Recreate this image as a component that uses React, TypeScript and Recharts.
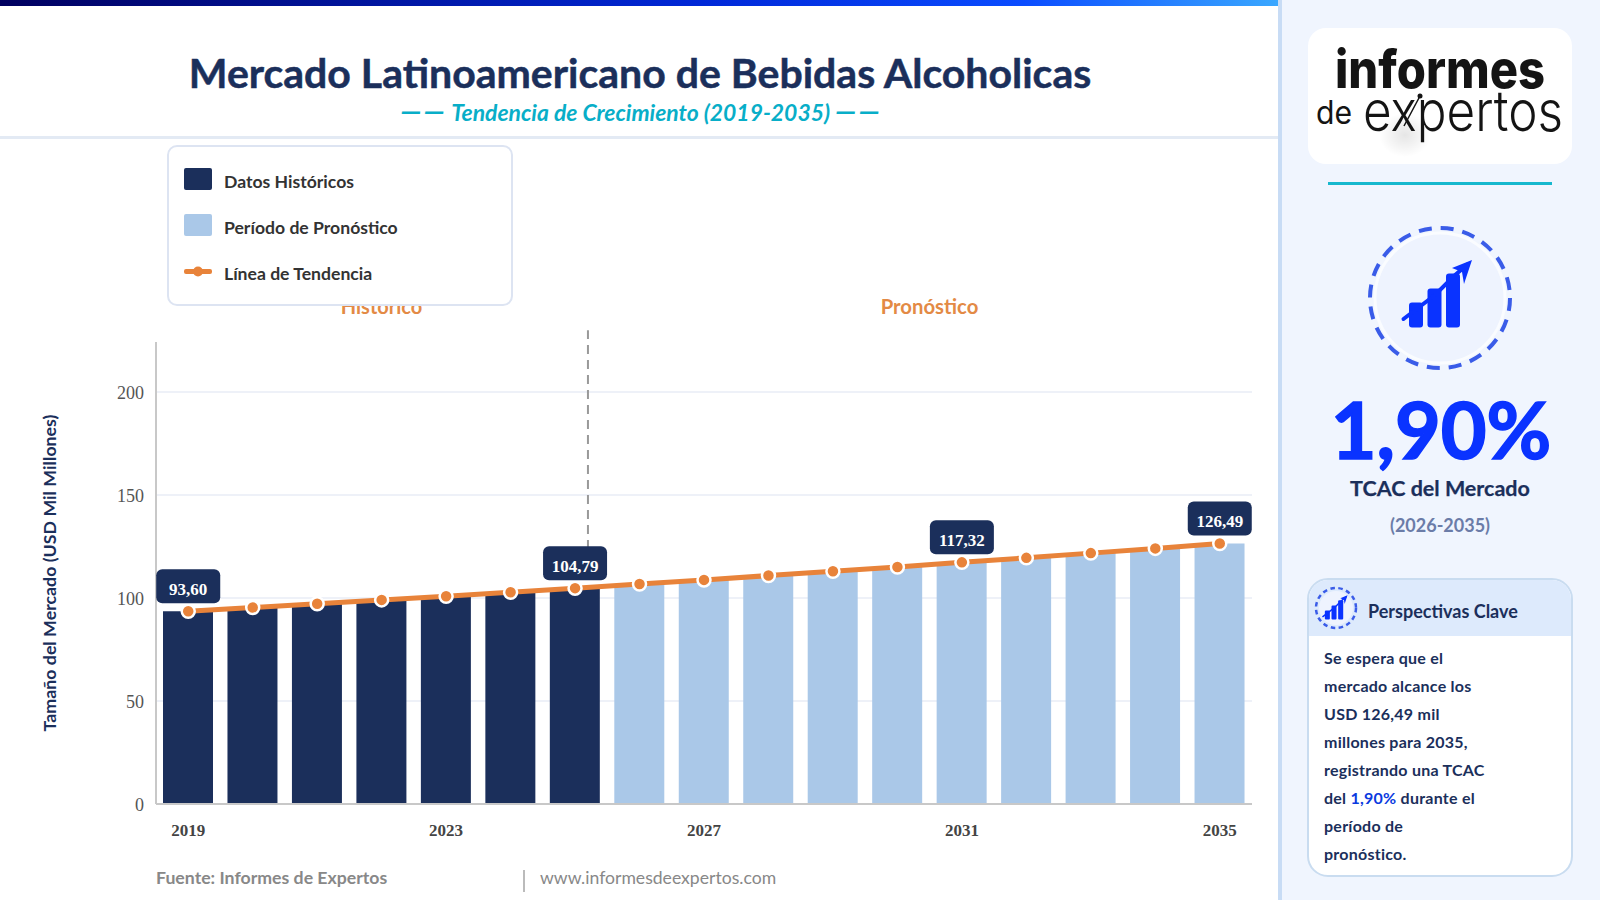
import React from 'react';
import {
  ComposedChart, Bar, Line, XAxis, YAxis, CartesianGrid, Legend, LabelList, ReferenceLine, Label,
} from 'recharts';

const years = ['2019','2020','2021','2022','2023','2024','2025','2026','2027','2028','2029','2030','2031','2032','2033','2034','2035'];
const historicValues = [93.6, 95.4, 97.2, 99.1, 100.9, 102.8, 104.79];
const forecastValues = [106.8, 108.8, 110.9, 113.0, 115.1, 117.32, 119.5, 121.8, 124.1, 126.49];
const trendValues = [...historicValues, ...forecastValues];
const labelledYears = ['2019', '2025', '2031', '2035'];
const yTicks = [0, 50, 100, 150, 200];
const insightLines = ['Se espera que el', 'mercado alcance los', 'USD 126,49 mil', 'millones para 2035,', 'registrando una TCAC'];
const insightTail = ['período de', 'pronóstico.'];

const rows = years.map((year, i) => ({
  year,
  index: i,
  historic: i < historicValues.length ? historicValues[i] : null,
  forecast: i >= historicValues.length ? forecastValues[i - historicValues.length] : null,
  trend: trendValues[i],
}));

const NAVY = '#1b2f5b';
const LIGHT = '#aac8e8';
const ORANGE = '#e8833a';
const BLUE = '#0a33ff';
const SANS = 'Lato, sans-serif';
const SERIF = '"Liberation Serif", serif';

const Chip = (props: any) => {
  const { x, y, value, index } = props;
  if (!labelledYears.includes(years[index])) return null;
  return (
    <g>
      <rect x={x - 32} y={y - 42} width={64} height={34} rx={6} fill={NAVY} />
      <text x={x} y={y - 16} textAnchor="middle" fontFamily={SERIF} fontWeight={700} fontSize={17} fill="#fff">
        {Number(value).toFixed(2).replace('.', ',')}
      </text>
    </g>
  );
};

const LegendBox = ({ payload }: any) => (
  <div style={{ width: 346, height: 161, boxSizing: 'border-box', background: '#fff', border: '2px solid #dde4f2', borderRadius: 10, padding: '21px 0 0 15px' }}>
    {(payload || []).map((entry: any) => (
      <div key={entry.value} style={{ display: 'flex', alignItems: 'center', height: 22, marginBottom: 24 }}>
        {entry.type === 'line' ? (
          <svg width={28} height={22} style={{ display: 'block' }}>
            <rect x={0} y={9} width={28} height={5} rx={2} fill={entry.color} />
            <circle cx={14} cy={11.5} r={5} fill={entry.color} />
          </svg>
        ) : (
          <div style={{ width: 28, height: 22, borderRadius: 2, background: entry.color }} />
        )}
        <span style={{ marginLeft: 12, fontFamily: SANS, fontWeight: 700, fontSize: 17.6, color: '#333', position: 'relative', top: 2 }}>{entry.value}</span>
      </div>
    ))}
  </div>
);

const TrendIcon = () => (
  <g fill={BLUE}>
    <rect x={-31} y={4.5} width={14} height={25} rx={3} />
    <rect x={-12.5} y={-9.5} width={14} height={39} rx={3} />
    <rect x={6} y={-24.5} width={14} height={54} rx={3} />
    <path d="M-36.5 21 L-5 -3 L 14 -22 L 28 -34" stroke={BLUE} strokeWidth={4} strokeLinecap="round" fill="none" />
    <path d="M32 -38 L12 -30 L 22 -26 L 24 -14 Z" />
  </g>
);

const Backdrop = () => (
  <svg width={1600} height={900} style={{ position: 'absolute', left: 0, top: 0 }}>
    <defs>
      <linearGradient id="topbar" x1="0" x2="1" y1="0" y2="0">
        <stop offset="0" stopColor="#00005f" />
        <stop offset="0.55" stopColor="#0028d8" />
        <stop offset="0.8" stopColor="#0a4cff" />
        <stop offset="1" stopColor="#3aa8ff" />
      </linearGradient>
      <radialGradient id="smudge">
        <stop offset="0" stopColor="#000" stopOpacity="0.1" />
        <stop offset="1" stopColor="#000" stopOpacity="0" />
      </radialGradient>
    </defs>
    <rect width={1600} height={900} fill="#fff" />
    <rect x={0} y={0} width={1279} height={6} fill="url(#topbar)" />
    <rect x={0} y={136} width={1278} height={3} fill="#e3eaf4" />
    <text x={640} y={88} textAnchor="middle" fontFamily={SANS} fontWeight={700} fontSize={41} stroke={NAVY} strokeWidth={0.5} fill={NAVY}>Mercado Latinoamericano de Bebidas Alcoholicas</text>
    <text x={641} y={121} textAnchor="middle" fontFamily={SANS} fontStyle="italic" fontWeight={700} fontSize={22.9} fill="#08aec8">
      <tspan fontSize={29} letterSpacing={2}>——</tspan> Tendencia de Crecimiento (2019-2035) <tspan fontSize={29} letterSpacing={2}>——</tspan>
    </text>
    <text x={381.5} y={314} textAnchor="middle" fontFamily={SANS} fontWeight={700} fontSize={20} fill="#e38a45">Histórico</text>
    <text x={929.5} y={314} textAnchor="middle" fontFamily={SANS} fontWeight={700} fontSize={20.3} fill="#e38a45">Pronóstico</text>
    <text x={156} y={884} fontFamily={SANS} fontWeight={700} fontSize={17.7} fill="#888">Fuente: Informes de Expertos</text>
    <rect x={523} y={870} width={2} height={22} fill="#bbb" />
    <text x={540} y={884} fontFamily={SANS} fontSize={17.6} fill="#888">www.informesdeexpertos.com</text>

    <rect x={1278} y={0} width={322} height={900} fill="#f0f5fe" />
    <rect x={1278} y={0} width={4} height={900} fill="#c8dcf5" />
    <rect x={1308} y={28} width={264} height={136} rx={18} fill="#fff" />
    <ellipse cx={1405} cy={135} rx={26} ry={22} fill="url(#smudge)" />
    <text x={1335} y={88} fontFamily="Inter, sans-serif" fontWeight={800} fontSize={53} textLength={210} lengthAdjust="spacingAndGlyphs" fill="#141414">informes</text>
    <text x={1316} y={124} fontFamily="Inter, sans-serif" fontWeight={400} fontSize={32} textLength={36} lengthAdjust="spacingAndGlyphs" fill="#141414">de</text>
    <text x={1363} y={131} fontFamily="Inter, sans-serif" fontWeight={300} fontSize={56} textLength={200} lengthAdjust="spacingAndGlyphs" fill="#141414">expertos</text>
    <path d="M1404 126 L1420 96" stroke="#141414" strokeWidth={1.5} fill="none" />
    <circle cx={1420} cy={96} r={2.5} fill="#141414" />
    <rect x={1328} y={182} width={224} height={3} fill="#17b8ce" />

    <circle cx={1440} cy={298} r={65} fill="#eef3fe" stroke="#fafcff" strokeWidth={3} />
    <circle cx={1440} cy={298} r={70} fill="none" stroke="#3a5ce8" strokeWidth={4} strokeDasharray="13 9" />
    <g transform="translate(1440 298)"><TrendIcon /></g>

    <text x={1441} y={459} textAnchor="middle" fontFamily={SANS} fontWeight={700} fontSize={79} stroke={BLUE} strokeWidth={1.6} fill={BLUE}>1,90%</text>
    <text x={1440} y={496} textAnchor="middle" fontFamily={SANS} fontWeight={700} fontSize={21.5} stroke={NAVY} strokeWidth={0.25} fill={NAVY}>TCAC del Mercado</text>
    <text x={1440} y={532} textAnchor="middle" fontFamily={SANS} fontWeight={700} fontSize={18} fill="#6b7ca8">(2026-2035)</text>

    <rect x={1308} y={579} width={264} height={297} rx={20} fill="#fff" stroke="#c9dcf0" strokeWidth={2} />
    <path d="M1309 636 V599 a19 19 0 0 1 19 -19 H1552 a19 19 0 0 1 19 19 V636 Z" fill="#ddeafc" />
    <circle cx={1336} cy={608} r={17} fill="#eef3fe" />
    <circle cx={1336} cy={608} r={20} fill="none" stroke="#3a5ce8" strokeWidth={2.5} strokeDasharray="4.5 3.5" />
    <g transform="translate(1336 609) scale(0.36)"><TrendIcon /></g>
    <text x={1368} y={618} fontFamily={SANS} fontWeight={700} fontSize={18} fill={NAVY}>Perspectivas Clave</text>
    <g fontFamily={SANS} fontWeight={700} fontSize={16} letterSpacing={0.25} fill={NAVY}>
      {insightLines.map((line, i) => <text key={line} x={1324} y={664 + i * 28}>{line}</text>)}
      <text x={1324} y={804}>del <tspan fill="#0a3ae0">1,90%</tspan> durante el</text>
      {insightTail.map((line, i) => <text key={line} x={1324} y={832 + i * 28}>{line}</text>)}
    </g>
  </svg>
);

export default function App() {
  return (
    <div style={{ position: 'absolute', left: 0, top: 0, width: 1600, height: 900, overflow: 'hidden' }}>
      <Backdrop />
      <div style={{ position: 'absolute', left: 0, top: 0 }}>
        <ComposedChart width={1278} height={900} data={rows} margin={{ top: 342, right: 26, bottom: 46, left: 0 }} barCategoryGap={0}>
          <CartesianGrid horizontal vertical={false} stroke="#eef1f8" strokeWidth={2} syncWithTicks />
          <XAxis dataKey="year" height={50} interval={3} tickLine={false} axisLine={{ stroke: '#c8c8c8', strokeWidth: 2 }}
            tick={{ fontFamily: SERIF, fontWeight: 700, fontSize: 17, fill: '#444' }} tickMargin={14} />
          <XAxis xAxisId="pos" type="number" dataKey="index" domain={[-0.5, 16.5]} hide />
          <YAxis width={156} domain={[0, 224.3]} ticks={yTicks} tickLine={false} axisLine={{ stroke: '#c8c8c8', strokeWidth: 2 }}
            tick={{ fontFamily: SERIF, fontSize: 18, fill: '#555', dy: 1 }} tickMargin={6}>
            <Label value="Tamaño del Mercado (USD Mil Millones)" angle={-90} position="insideLeft" offset={50}
              style={{ fontFamily: SANS, fontWeight: 700, fontSize: 17.8, fill: NAVY, textAnchor: 'middle' }} />
          </YAxis>
          <ReferenceLine xAxisId="pos" ifOverflow="visible" stroke="#999" strokeWidth={2} strokeDasharray="9 6" zIndex={100}
            segment={[{ x: 6.2, y: 0 }, { x: 6.2, y: 230 }]} />
          <Bar dataKey="historic" name="Datos Históricos" stackId="v" fill={NAVY} barSize={50} isAnimationActive={false} />
          <Bar dataKey="forecast" name="Período de Pronóstico" stackId="v" fill={LIGHT} barSize={50} isAnimationActive={false} />
          <Line dataKey="trend" name="Línea de Tendencia" stroke={ORANGE} strokeWidth={5} isAnimationActive={false}
            dot={{ r: 6.5, fill: ORANGE, stroke: '#fff', strokeWidth: 2.5 }} activeDot={false}>
            <LabelList dataKey="trend" content={Chip} />
          </Line>
          <Legend layout="vertical" align="center" verticalAlign="middle" content={LegendBox} itemSorter={null}
            wrapperStyle={{ position: 'absolute', left: 167, top: 145, width: 346, height: 161, right: 'auto', bottom: 'auto' }} />
        </ComposedChart>
      </div>
    </div>
  );
}
